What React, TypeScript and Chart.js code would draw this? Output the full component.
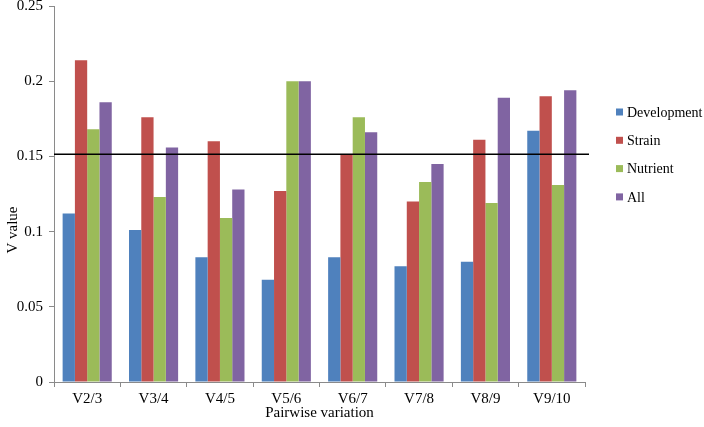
import React, { useEffect, useRef } from "react";
import { Chart, registerables } from "chart.js";

Chart.register(...registerables);

const categories = ["V2/3", "V3/4", "V4/5", "V5/6", "V6/7", "V7/8", "V8/9", "V9/10"];
const development = [0.112, 0.101, 0.083, 0.068, 0.083, 0.077, 0.080, 0.167];
const strain = [0.214, 0.176, 0.160, 0.127, 0.151, 0.120, 0.161, 0.190];
const nutrient = [0.168, 0.123, 0.109, 0.200, 0.176, 0.133, 0.119, 0.131];
const all = [0.186, 0.156, 0.128, 0.200, 0.166, 0.145, 0.189, 0.194];
const seriesNames = ["Development", "Strain", "Nutrient", "All"];
const seriesColors = ["#4F81BD", "#C0504D", "#9BBB59", "#8064A2"];
const threshold = 0.1515;
const yTitle = "V value";
const xTitle = "Pairwise variation";

const FONT = "'Liberation Serif', 'Times New Roman', serif";

export default function App() {
  const ref = useRef<HTMLCanvasElement | null>(null);
  useEffect(() => {
    if (!ref.current) return;
    const thresholdPlugin = {
      id: "threshold",
      afterDatasetsDraw(chart: any) {
        const { ctx, chartArea, scales } = chart;
        const y = scales.y.getPixelForValue(threshold);
        ctx.save();
        ctx.strokeStyle = "#000";
        ctx.lineWidth = 1.5;
        ctx.beginPath();
        ctx.moveTo(chartArea.left, y);
        ctx.lineTo(chartArea.right + 4, y);
        ctx.stroke();
        ctx.restore();
      },
    };
    const legendPlugin = {
      id: "customLegend",
      afterDraw(chart: any) {
        const { ctx } = chart;
        ctx.save();
        ctx.font = `14px ${FONT}`;
        ctx.textBaseline = "middle";
        chart.data.datasets.forEach((ds: any, i: number) => {
          const y = 112 + i * 28.3;
          ctx.fillStyle = ds.backgroundColor;
          ctx.fillRect(616, y - 3.5, 7, 7);
          ctx.fillStyle = "#000";
          ctx.fillText(ds.label, 627, y + 1);
        });
        // y axis title
        ctx.translate(13, 230);
        ctx.rotate(-Math.PI / 2);
        ctx.textAlign = "center";
        ctx.font = `15px ${FONT}`;
        ctx.fillText(yTitle, 0, 0);
        ctx.restore();
      },
    };
    const data = [development, strain, nutrient, all];
    const chart = new Chart(ref.current, {
      type: "bar",
      data: {
        labels: categories,
        datasets: data.map((d, i) => ({
          label: seriesNames[i],
          data: d,
          backgroundColor: seriesColors[i],
          borderWidth: 0,
          categoryPercentage: 0.74,
          barPercentage: 1.0,
        })),
      },
      options: {
        animation: false,
        responsive: false,
        layout: { padding: { top: 6, right: 119, left: 0, bottom: 0 } },
        plugins: { legend: { display: false }, tooltip: { enabled: false } },
        scales: {
          x: {
            grid: {
              offset: true,
              drawOnChartArea: false,
              drawTicks: true,
              tickLength: 5,
              color: "#8a8a8a",
            },
            border: { color: "#8a8a8a", width: 1 },
            ticks: { color: "#000", font: { family: FONT, size: 15 }, padding: 3 },
            title: {
              display: true,
              text: xTitle,
              color: "#000",
              font: { family: FONT, size: 15 },
              padding: { top: 0, bottom: 5 },
            },
            afterFit(scale: any) {
              scale.height = 45;
            },
          },
          y: {
            min: 0,
            max: 0.25,
            ticks: {
              stepSize: 0.05,
              color: "#000",
              font: { family: FONT, size: 15 },
              padding: 6,
              callback: (v: any) => String(Math.round(Number(v) * 100) / 100),
            },
            grid: {
              drawOnChartArea: false,
              drawTicks: true,
              tickLength: 5,
              color: "#8a8a8a",
            },
            border: { color: "#8a8a8a", width: 1 },
            afterFit(scale: any) {
              scale.width = 54;
              scale.paddingTop = 0;
            },
          },
        },
      },
      plugins: [thresholdPlugin, legendPlugin],
    });
    return () => chart.destroy();
  }, []);
  return (
    <div style={{ position: "fixed", left: 0, top: 0, width: 704, height: 427, background: "#fff" }}>
      <canvas ref={ref} width={704} height={427} style={{ width: 704, height: 427 }} />
    </div>
  );
}
